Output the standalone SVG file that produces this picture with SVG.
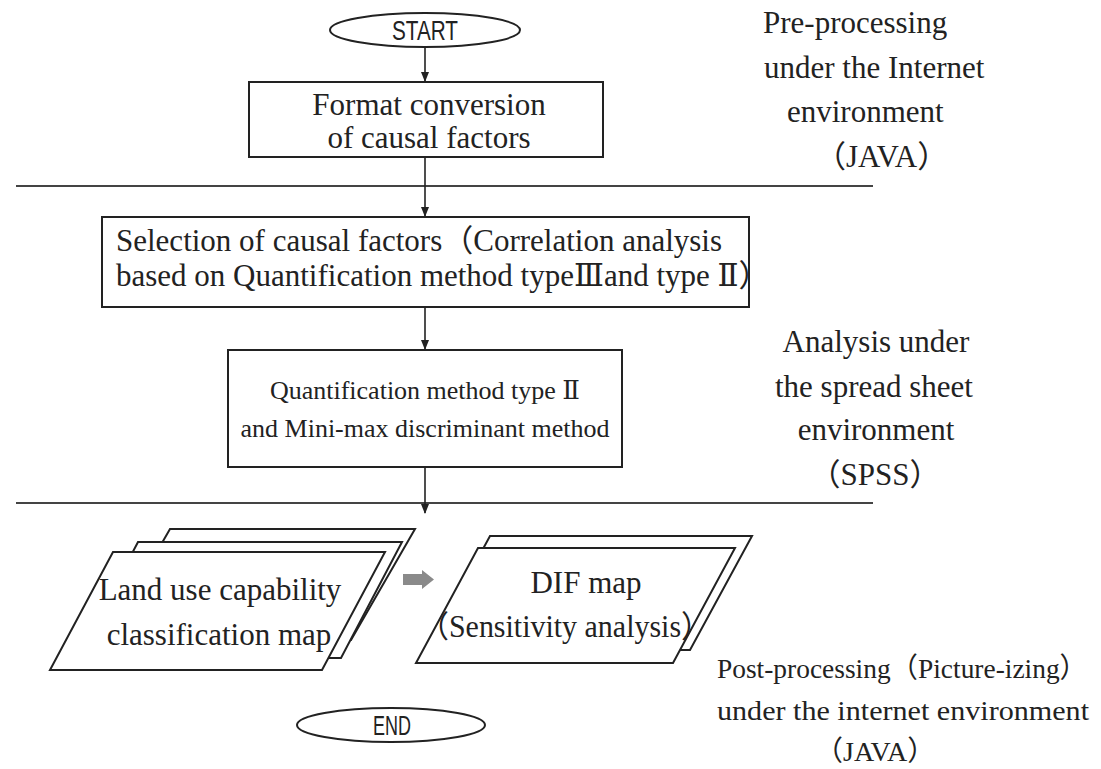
<svg xmlns="http://www.w3.org/2000/svg" width="1101" height="769" viewBox="0 0 1101 769">
<style>
.t{font-family:"Liberation Serif","DejaVu Serif","Noto Sans CJK JP",serif;font-size:31px;fill:#222}
.s{font-size:26px}
.p{font-size:28px}
.g{font-family:"Liberation Sans","DejaVu Sans",sans-serif;font-size:27px;fill:#222}
.b{fill:#fff;stroke:#222;stroke-width:2}
.sep{stroke:#444;stroke-width:2}
.c{stroke:#222;stroke-width:1.6;fill:none}
</style>
<defs>
<marker id="ah" markerWidth="10" markerHeight="10" refX="9" refY="5" orient="auto" markerUnits="userSpaceOnUse">
<path d="M0,1 L10,5 L0,9 Z" fill="#222"/>
</marker>
</defs>
<rect width="1101" height="769" fill="#fff"/>
<g id="separators">
<line class="sep" x1="16" y1="186" x2="873" y2="186"/>
<line class="sep" x1="16" y1="503" x2="873" y2="503"/>
</g>
<g id="connectors">
<line class="c" x1="425" y1="47" x2="425" y2="81" marker-end="url(#ah)"/>
<line class="c" x1="425" y1="157" x2="425" y2="216" marker-end="url(#ah)"/>
<line class="c" x1="425" y1="307" x2="425" y2="349" marker-end="url(#ah)"/>
<line class="c" x1="425" y1="467" x2="425" y2="513" marker-end="url(#ah)"/>
<path d="M403,574 L422,574 L422,570 L434,579.5 L422,589 L422,585 L403,585 Z" fill="#8a8a8a"/>
</g>
<g id="start">
<ellipse class="b" cx="425" cy="30" rx="95" ry="17"/>
<text class="g" x="425" y="40" text-anchor="middle" textLength="66" lengthAdjust="spacingAndGlyphs">START</text>
</g>
<g id="format">
<rect class="b" x="249" y="82" width="354" height="75"/>
<text class="t" x="429" y="115" text-anchor="middle">Format conversion</text>
<text class="t" x="429" y="148" text-anchor="middle">of causal factors</text>
</g>
<g id="selection">
<rect class="b" x="102" y="217" width="647" height="90" stroke-width="2.6"/>
<text class="t" x="116" y="251">Selection of causal factors（Correlation analysis</text>
<text class="t" x="116" y="286">based on Quantification method typeⅢand type Ⅱ）</text>
</g>
<g id="quant">
<rect class="b" x="228" y="350" width="394" height="117"/>
<text class="t s" x="425" y="399" text-anchor="middle">Quantification method type Ⅱ</text>
<text class="t s" x="425" y="437" text-anchor="middle">and Mini-max discriminant method</text>
</g>
<g id="landuse">
<polygon class="b" points="170,529 415,529 351,640 106,640"/>
<polygon class="b" points="138,542 402,542 341,658 77,658"/>
<polygon class="b" points="113,552 385,552 322,670 50,670"/>
<text class="t" x="220" y="600" text-anchor="middle">Land use capability</text>
<text class="t" x="219" y="645" text-anchor="middle">classification map</text>
</g>
<g id="dif">
<polygon class="b" points="490,536 752,536 690,650 428,650"/>
<polygon class="b" points="478,548 735,548 673,663 416,663"/>
<text class="t" x="586" y="593" text-anchor="middle">DIF map</text>
<text class="t" x="565" y="637" text-anchor="middle" textLength="292" lengthAdjust="spacingAndGlyphs">（Sensitivity analysis）</text>
</g>
<g id="end">
<ellipse class="b" cx="391" cy="725" rx="94" ry="17"/>
<text class="g" x="392" y="735" text-anchor="middle" textLength="38" lengthAdjust="spacingAndGlyphs">END</text>
</g>
<g id="label-pre">
<text class="t" x="763" y="33">Pre-processing</text>
<text class="t" x="764" y="78">under the Internet</text>
<text class="t" x="787" y="122">environment</text>
<text class="t" x="815" y="167">（JAVA）</text>
</g>
<g id="label-analysis">
<text class="t" x="876" y="352" text-anchor="middle">Analysis under</text>
<text class="t" x="874" y="397" text-anchor="middle">the spread sheet</text>
<text class="t" x="876" y="440" text-anchor="middle">environment</text>
<text class="t" x="875" y="485" text-anchor="middle">（SPSS）</text>
</g>
<g id="label-post">
<text class="t p" x="717" y="678" textLength="370" lengthAdjust="spacingAndGlyphs">Post-processing（Picture-izing）</text>
<text class="t p" x="717" y="720" textLength="372" lengthAdjust="spacingAndGlyphs">under the internet environment</text>
<text class="t p" x="815" y="761">（JAVA）</text>
</g>
</svg>
